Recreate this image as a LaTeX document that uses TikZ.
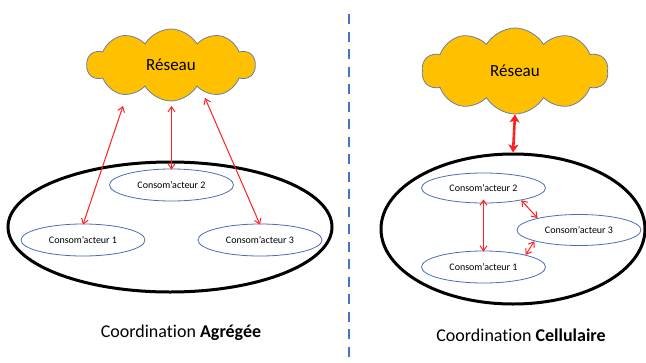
\documentclass[tikz,border=0pt]{standalone}
\usepackage{fontspec}
\setmainfont{Carlito}[Ligatures=CommonOff]
\usetikzlibrary{shapes.symbols,shapes.geometric,arrows.meta}
\definecolor{cloudfill}{HTML}{FFC000}
\definecolor{cloudline}{HTML}{6A7FA8}
\definecolor{agentline}{HTML}{4A6EB8}
\definecolor{sepline}{HTML}{4472C4}
\definecolor{arrred}{HTML}{FF2020}
\tikzset{
  netcloud/.style={cloud, cloud puffs=10, cloud puff arc=120, cloud ignores aspect,
    fill=cloudfill, draw=cloudline, line width=0.8pt, inner sep=0pt,
    font=\fontsize{17}{20}\selectfont},
  cell/.style={ellipse, draw=black, line width=3pt, inner sep=0pt},
  agent/.style={ellipse, draw=agentline, line width=0.8pt, inner sep=0pt,
    minimum width=124pt, minimum height=32pt, font=\fontsize{10}{12}\selectfont},
  thinarr/.style={draw=arrred, line width=1pt,
    {Straight Barb[length=5pt,width=7pt]}-{Straight Barb[length=5pt,width=7pt]}},
  thickarr/.style={draw=arrred, line width=2.6pt,
    {Stealth[length=8pt,width=10pt,inset=2pt]}-{Stealth[length=8pt,width=10pt,inset=2pt]}},
  caption/.style={font=\fontsize{18}{22}\selectfont, inner sep=0pt},
}
\begin{document}
\begin{tikzpicture}[x=1pt,y=-1pt]
\useasboundingbox[fill=white] (0,0) rectangle (646,362);

% separator
\draw[sepline, line width=2pt, dash pattern=on 10pt off 7.5pt] (349,14) -- (349,362);

% ---------- left: aggregated ----------
\node[cell, minimum width=324pt, minimum height=130pt] (cellL) at (170,227) {};
\node[netcloud, minimum width=168pt, minimum height=72pt] (netL) at (171,65) {Réseau};
\node[agent] (l2) at (171.5,185) {Consom'acteur 2};
\node[agent] (l1) at (83,240) {Consom'acteur 1};
\node[agent] (l3) at (260,240) {Consom'acteur 3};
\coordinate (la1) at (123,106);
\coordinate (la2) at (171.5,106);
\coordinate (la3) at (205,98);
\draw[thinarr] (la1) -- ([yshift=-1pt]l1.north);
\draw[thinarr] (la2) -- ([yshift=-1pt]l2.north);
\draw[thinarr] (la3) -- ([yshift=-1pt]l3.north);
\node[caption] (capL) at (181,333) {Coordination \textbf{Agrégée}};

% ---------- right: cellular ----------
\node[cell, minimum width=264pt, minimum height=150pt] (cellR) at (513,229) {};
\node[netcloud, minimum width=186pt, minimum height=86pt] (netR) at (515,71) {Réseau};
\node[agent, minimum height=30pt] (r2) at (483.5,188) {Consom'acteur 2};
\node[agent, minimum height=31pt] (r3) at (579,230) {Consom'acteur 3};
\node[agent] (r1) at (483.5,267) {Consom'acteur 1};
\draw[thickarr] (netR.south) -- (cellR.north);
\draw[thinarr] ([yshift=4pt]r2.south) -- ([yshift=-1pt]r1.north);
\draw[thinarr] (r2.-18) -- (r3.164.7);
\draw[thinarr] (r1.16.5) -- (r3.194.4);
\node[caption] (capR) at (521,335) {Coordination \textbf{Cellulaire}};
\end{tikzpicture}
\end{document}
